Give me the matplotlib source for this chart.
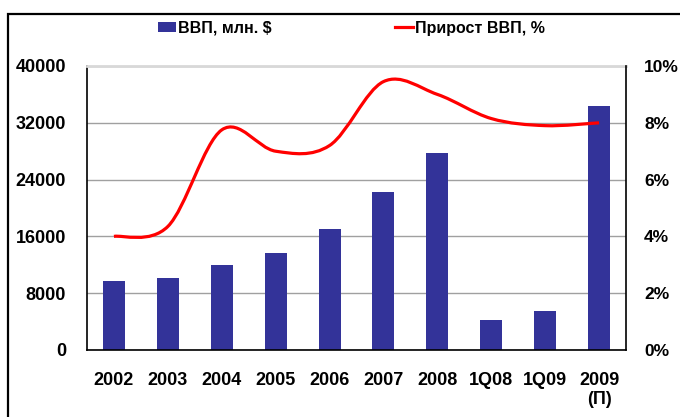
import matplotlib
matplotlib.use("Agg")
import matplotlib.pyplot as plt
from matplotlib.path import Path
from matplotlib.patches import PathPatch, Rectangle
from matplotlib.lines import Line2D
from matplotlib.ticker import FuncFormatter
import numpy as np

categories = ["2002", "2003", "2004", "2005", "2006", "2007", "2008", "1Q08", "1Q09", "2009\n(П)"]
gdp = [9700, 10100, 11950, 13650, 17000, 22200, 27800, 4200, 5500, 34300]
growth = [4.0, 4.35, 7.75, 7.0, 7.2, 9.45, 9.0, 8.15, 7.9, 8.0]
left_ticks = [0, 8000, 16000, 24000, 32000, 40000]
right_ticks = [0, 2, 4, 6, 8, 10]

plt.rcParams['font.family'] = ['Liberation Sans', 'DejaVu Sans']
plt.rcParams['font.weight'] = 'bold'

fig = plt.figure(figsize=(6.8, 4.17), dpi=100)
ax = fig.add_axes([87/680, 1-350/417, (626-87)/680, (350-66)/417])
ax2 = ax.twinx()

x = np.arange(len(categories))
bar_color = '#333399'
line_color = '#ff0000'
ax.bar(x, gdp, width=0.41, color=bar_color, zorder=2)
ax.set_xlim(-0.5, len(categories)-0.5)
ax.set_ylim(0, 40000)
ax.set_yticks(left_ticks)
ax.set_yticklabels([str(v) for v in left_ticks])
ax.set_xticks(x)
ax.set_xticklabels(categories, linespacing=1.1)
ax.grid(axis='y', color='#a0a0a0', linewidth=1.0, zorder=0)
ax.set_axisbelow(True)
ax.tick_params(axis='both', length=0, labelsize=13)
ax.tick_params(axis='y', pad=15)
ax.tick_params(axis='x', pad=16)
for lbl in ax.get_xticklabels() + ax.get_yticklabels():
    lbl.set_fontweight('bold')
ax.spines['top'].set_color('#d8d8d8')
ax.spines['top'].set_linewidth(2)
for s in ['left', 'bottom']:
    ax.spines[s].set_color('black')
    ax.spines[s].set_linewidth(1.2)
ax.spines['right'].set_visible(False)

ax2.set_ylim(0, 10)
ax2.set_yticks(right_ticks)
ax2.yaxis.set_major_formatter(FuncFormatter(lambda v, p: f"{int(v)}%"))
ax2.tick_params(axis='y', length=0, labelsize=12.5, pad=13)
for lbl in ax2.get_yticklabels():
    lbl.set_fontweight('bold')
ax2.spines['right'].set_color('black')
ax2.spines['right'].set_linewidth(1.2)
ax2.spines['top'].set_visible(False)
ax2.spines['left'].set_visible(False)
ax2.spines['bottom'].set_visible(False)

# smoothed line (Catmull-Rom style Bezier through the data points)
pts = np.column_stack([x, growth]).astype(float)
n = len(pts)
verts = [tuple(pts[0])]
codes = [Path.MOVETO]
for i in range(n-1):
    p0 = pts[i-1] if i > 0 else pts[i]
    p1 = pts[i]
    p2 = pts[i+1]
    p3 = pts[i+2] if i+2 < n else pts[i+1]
    c1 = p1 + (p2 - p0) / 6.0
    c2 = p2 - (p3 - p1) / 6.0
    verts += [tuple(c1), tuple(c2), tuple(p2)]
    codes += [Path.CURVE4, Path.CURVE4, Path.CURVE4]
ax2.add_patch(PathPatch(Path(verts, codes), facecolor='none', edgecolor=line_color,
                        linewidth=2.3, capstyle='butt', zorder=3))

handles = [Rectangle((0, 0), 1, 1, facecolor=bar_color, edgecolor='none'),
           Line2D([0], [0], color=line_color, linewidth=2.3)]
fig.legend(handles, ["ВВП, млн. $", "Прирост ВВП, %"], ncol=2, frameon=False,
           loc='center left', bbox_to_anchor=(158/680, 1-28/417),
           prop={'family': ['Liberation Sans', 'DejaVu Sans'],
                 'weight': 'bold', 'size': 11.5},
           handlelength=1.15, handleheight=0.6, handletextpad=0.1, columnspacing=7.7,
           borderaxespad=0, borderpad=0)

fig.add_artist(Rectangle((8/680, -0.2), 1.3, 0.2 + 1 - 14/417, transform=fig.transFigure,
                         facecolor='none', edgecolor='black', linewidth=1.6, clip_on=False))

fig.savefig("out.png", dpi=100)
